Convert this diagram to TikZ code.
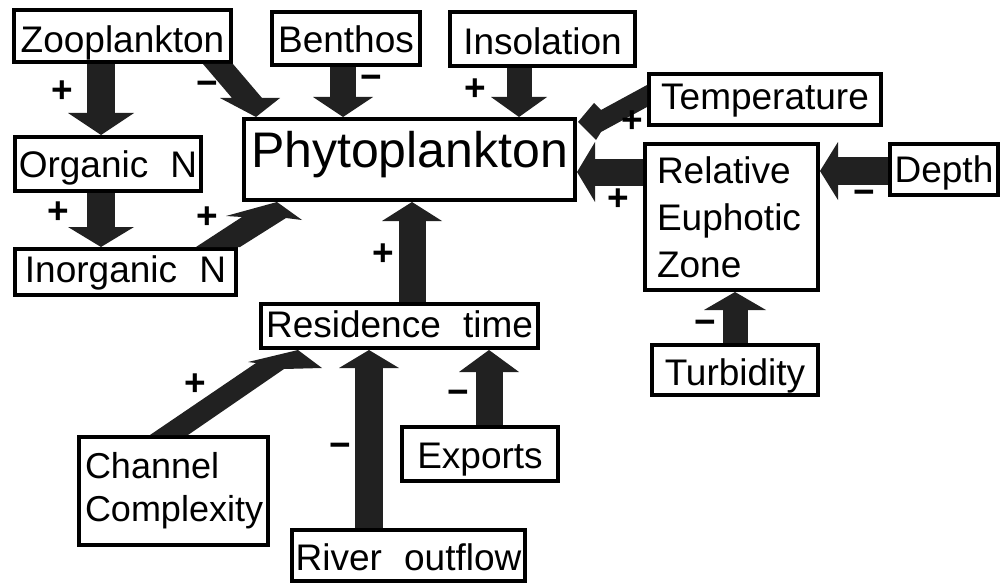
\documentclass[tikz,border=0pt]{standalone}
\usepackage{fontspec}
\setmainfont{Liberation Sans}
\usetikzlibrary{arrows.meta,calc}
\definecolor{arrowgray}{gray}{0.13}
\tikzset{
  box/.style={draw=black, line width=4pt, inner sep=0pt, font=\fontsize{37}{46}\selectfont},
  sign/.style={inner sep=0pt, font=\fontsize{37}{44}\selectfont\bfseries},
  arr/.style n args={3}{draw=arrowgray, line width=#1pt,
     -{Triangle[width=#2pt,length=#3pt,line width=0pt]}},
  blk/.style={fill=arrowgray},
}
\begin{document}
\begin{tikzpicture}[x=1pt,y=-1pt]
\useasboundingbox (0,0) rectangle (1005,586);
% boxes
\node[box, minimum width=217, minimum height=52, text height=34pt, text depth=0pt] (zoo) at (122.5,36) {Zooplankton};
\node[box, minimum width=148, minimum height=53, text height=29pt, text depth=0pt] (benthos) at (346,38.5) {Benthos};
\node[box, minimum width=185, minimum height=54, text height=32pt, text depth=0pt] (insol) at (542.5,39) {Insolation};
\node[box, minimum width=331, minimum height=81, text height=15pt, text depth=0pt, font=\fontsize{50}{60}\selectfont] (phyto) at (409.5,159.5) {Phytoplankton};
\node[box, minimum width=186, minimum height=54, text height=26pt, text depth=0pt] (orgN) at (108,164) {Organic\hspace{0.6em}N};
\node[box, minimum width=221, minimum height=46, text height=21pt, text depth=0pt] (inorgN) at (125.5,272) {Inorganic\hspace{0.6em}N};
\node[box, minimum width=232, minimum height=51, text height=21pt, text depth=0pt] (temp) at (765,99.5) {Temperature};
\node[box, minimum width=173, minimum height=146, inner xsep=12pt, text width=149pt, align=left, font=\fontsize{37}{47}\selectfont] (rel) at (731.5,217) {Relative\\Euphotic\\Zone};
\node[box, minimum width=108, minimum height=51, text height=25pt, text depth=0pt] (depth) at (944,169.5) {Depth};
\node[box, minimum width=166, minimum height=50, text height=30pt, text depth=0pt] (turb) at (735,370) {Turbidity};
\node[box, minimum width=277, minimum height=44, text height=22pt, text depth=0pt] (res) at (399.5,326) {Residence\hspace{0.6em}time};
\node[box, minimum width=189, minimum height=108, inner xsep=6pt, text width=177pt, align=left, font=\fontsize{36}{43}\selectfont] (chan) at (173.5,491) {Channel\\Complexity};
\node[box, minimum width=233, minimum height=51, text height=29pt, text depth=0pt] (river) at (408.5,555.5) {River\hspace{0.6em}outflow};
\node[box, minimum width=156, minimum height=54, text height=28pt, text depth=0pt] (exports) at (480,454) {Exports};
% straight block arrows
\draw[arr={28}{66}{22}] (101,0 |- zoo.south) -- (101,0 |- orgN.north);
\draw[arr={28}{66}{20}] (101,0 |- orgN.south) -- (101,0 |- inorgN.north);
\draw[arr={26}{60}{20}] (343,0 |- benthos.south) -- (343,0 |- phyto.north);
\draw[arr={25}{56}{20}] (519,0 |- insol.south) -- (519,0 |- phyto.north);
\draw[arr={27}{60}{19}] (412,0 |- res.north) -- (412,0 |- phyto.south);
\draw[arr={25}{62}{18}] (735,0 |- turb.north) -- (735,0 |- rel.south);
\draw[arr={28}{60}{18}] (369,0 |- river.north) -- (369,0 |- res.south);
\draw[arr={27}{60}{22}] (489,0 |- exports.north) -- (489,0 |- res.south);
\draw[arr={27}{60}{18}] (rel.west |- 0,172) -- (phyto.east |- 0,172);
\draw[arr={28}{58}{18}] (depth.west |- 0,171) -- (rel.east |- 0,171);
% slanted block arrows
\fill[blk] ($(zoo.south east)+(-30,0)$) -- (zoo.south east) -- ++(29,34) -- ++(18,0)
  -- ($(phyto.north west)+(14,0)$) -- ++(-36,-19) -- ++(12,0) -- cycle;
\fill[blk] ($(inorgN.north east)+(-42,0)$) -- ++(44,0) -- ++(46,-29) -- ++(16,2)
  -- ($(phyto.south west)+(35,0)$) -- ++(-51,14) -- ++(16,1) -- cycle;
\fill[blk] ($(chan.north west)+(73,0)$) -- ++(38,0) -- ++(96,-66) -- ++(38,-1)
  -- ($(res.south west)+(39,0)$) -- ++(-50,12) -- ++(8,1) -- cycle;
\fill[blk] ($(temp.north west)+(0,13)$) -- ++(-46,25) -- ++(-7,-7)
  -- ($(phyto.north east)+(1,5)$) -- ++(18,18) -- ++(5,-8)
  -- ($(temp.north west)+(0,35)$) -- cycle;
% signs
\node[sign] (s1) at (62,92) {+};
\node[sign] (s2) at (207,88) {−};
\node[sign] (s3) at (371,82) {−};
\node[sign] (s4) at (475,90) {+};
\node[sign] (s5) at (632,122) {+};
\node[sign] (s6) at (618,200) {+};
\node[sign] (s7) at (864,197) {−};
\node[sign] (s8) at (705,327) {−};
\node[sign] (s9) at (383,255) {+};
\node[sign] (s10) at (58,213) {+};
\node[sign] (s11) at (207,218) {+};
\node[sign] (s12) at (195,385) {+};
\node[sign] (s13) at (340,450) {−};
\node[sign] (s14) at (458,397) {−};
\end{tikzpicture}
\end{document}
